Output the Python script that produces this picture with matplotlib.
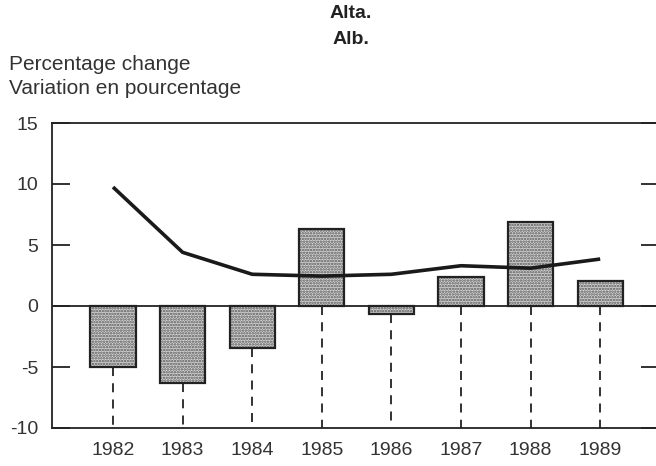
import numpy as np
import matplotlib.pyplot as plt

# Alberta: annual percentage change (bars) and trend line
years = ['1982', '1983', '1984', '1985', '1986', '1987', '1988', '1989']
change = [-5.0, -6.3, -3.45, 6.3, -0.65, 2.4, 6.9, 2.05]
trend = [9.75, 4.4, 2.6, 2.45, 2.6, 3.3, 3.1, 3.85]

yticks = [-10, -5, 0, 5, 10, 15]

plt.rcParams['font.family'] = ['Liberation Sans', 'DejaVu Sans']
plt.rcParams['hatch.linewidth'] = 1.2

fig = plt.figure(figsize=(6.56, 4.66), dpi=100)
ax = fig.add_axes([52/656, 1-428/466, (659-52)/656, (428-123)/466])

x = np.arange(len(years))
ymin = -10

# dashed drop lines from bar (or zero) down to the bottom
for xi, v in zip(x, change):
    start = min(v, 0)
    ax.plot([xi, xi], [start, ymin], color='#222222', lw=1.3,
            dashes=(5, 4), zorder=1)

# stippled fill, then outline
ax.bar(x, change, width=0.65, color='#d4d4d4', hatch='......',
       edgecolor='#555555', linewidth=0, zorder=2)
ax.bar(x, change, width=0.65, fill=False, edgecolor='#222222',
       linewidth=1.6, zorder=3)

ax.axhline(0, color='#222222', lw=1.3, zorder=3)
ax.plot(x, trend, color='#1a1a1a', lw=2.6, solid_capstyle='butt', zorder=4)

ax.set_xlim(-(113-52)/69.6, (659-113)/69.6)
ax.set_ylim(-10, 15)
ax.set_yticks(yticks)
ax.set_yticklabels([str(t) for t in yticks])
ax.set_xticks(x)
ax.set_xticklabels(years)

ax.tick_params(axis='y', direction='in', length=13, width=1.3,
               right=True, labelsize=14, pad=10, colors='#222222',
               labelcolor='#333333')
ax.tick_params(axis='x', length=0, labelsize=14, pad=10,
               labelcolor='#333333')
for s in ax.spines.values():
    s.set_color('#222222')
    s.set_linewidth(1.3)

fig.text(351/656, 1-14/466, 'Alta.', ha='center', va='center',
         fontsize=14, fontweight='bold', color='#222222')
fig.text(351/656, 1-39/466, 'Alb.', ha='center', va='center',
         fontsize=14, fontweight='bold', color='#222222')
fig.text(9/656, 1-64/466, 'Percentage change', ha='left', va='center',
         fontsize=15, color='#333333')
fig.text(9/656, 1-89/466, 'Variation en pourcentage', ha='left',
         va='center', fontsize=15, color='#333333')

fig.savefig('out.png', dpi=100)
